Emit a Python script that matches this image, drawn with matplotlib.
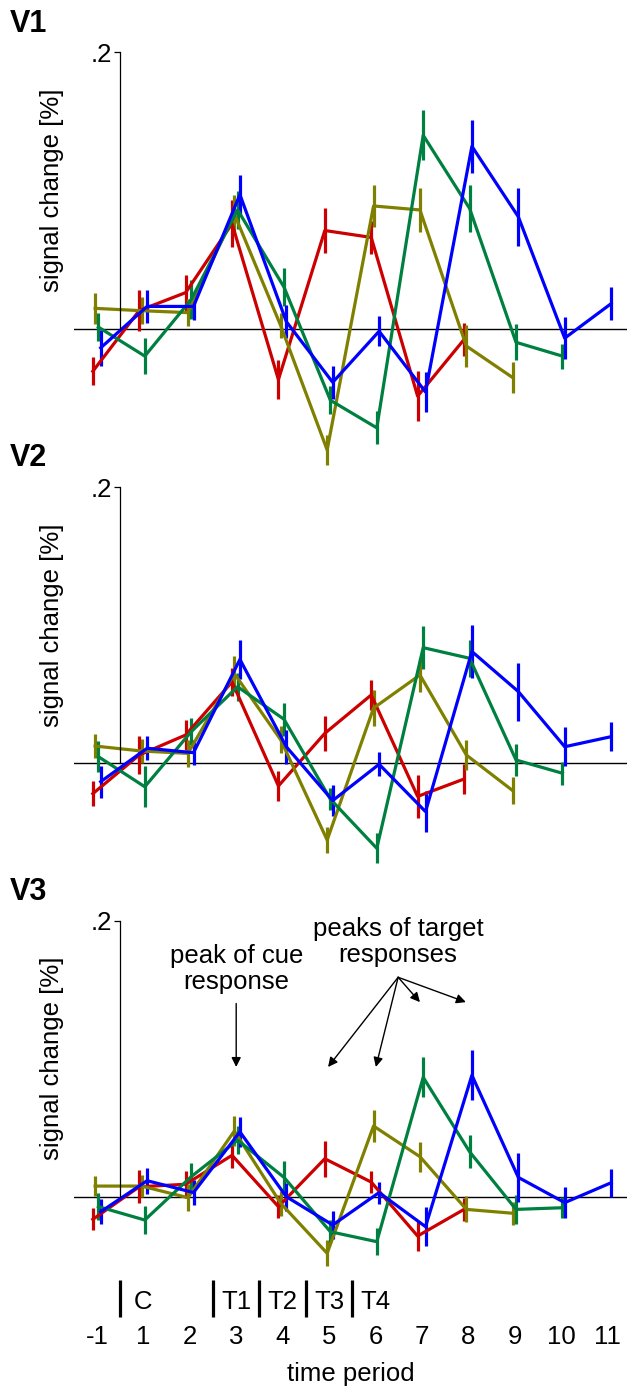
import matplotlib

matplotlib.use("Agg")
import matplotlib.pyplot as plt

plt.rcParams["font.family"] = ["Liberation Sans", "DejaVu Sans"]

# ---- data -------------------------------------------------------------
time_labels = ["-1", "1", "2", "3", "4", "5", "6", "7", "8", "9", "10", "11"]
phase_labels = ["C", "T1", "T2", "T3", "T4"]
phase_index = [1, 3, 4, 5, 6]  # time-period index where each event starts

# V1 (T1 red, T2 olive, T3 green, T4 blue): means and s.e.m.
v1_t1 = [-0.031, 0.013, 0.026, 0.076, -0.037, 0.071, 0.066, -0.049, -0.008]
v1_t1_err = [0.010, 0.015, 0.013, 0.017, 0.014, 0.016, 0.012, 0.018, 0.012]
v1_t2 = [0.0146, 0.0129, 0.0115, 0.083, 0.002, -0.088, 0.0888, 0.0859, -0.0127, -0.0356]
v1_t2_err = [0.011, 0.010, 0.010, 0.014, 0.009, 0.011, 0.015, 0.016, 0.015, 0.011]
v1_t3 = [0.001, -0.020, 0.021, 0.086, 0.030, -0.052, -0.072, 0.140, 0.087, -0.010, -0.020]
v1_t3_err = [0.010, 0.013, 0.014, 0.014, 0.014, 0.010, 0.012, 0.018, 0.017, 0.013, 0.009]
v1_t4 = [-0.014, 0.016, 0.016, 0.097, 0.005, -0.039, -0.002, -0.046, 0.132, 0.081, -0.007, 0.018]
v1_t4_err = [0.013, 0.012, 0.010, 0.0145, 0.012, 0.012, 0.011, 0.0145, 0.019, 0.021, 0.015, 0.012]

# V2
v2_t1 = [-0.022, 0.006, 0.0205, 0.059, -0.0164, 0.0217, 0.0495, -0.024, -0.0114]
v2_t1_err = [0.009, 0.014, 0.011, 0.010, 0.011, 0.0127, 0.011, 0.0157, 0.0106]
v2_t2 = [0.0125, 0.0089, 0.0072, 0.065, 0.017, -0.0556, 0.040, 0.064, 0.006, -0.0198]
v2_t2_err = [0.0085, 0.009, 0.010, 0.013, 0.0097, 0.0097, 0.013, 0.012, 0.011, 0.0097]
v2_t3 = [0.0048, -0.017, 0.0229, 0.0555, 0.0319, -0.026, -0.0616, 0.0838, 0.0761, 0.0024, -0.0072]
v2_t3_err = [0.011, 0.015, 0.010, 0.010, 0.012, 0.008, 0.011, 0.0157, 0.0135, 0.0116, 0.0085]
v2_t4 = [-0.0133, 0.0109, 0.0077, 0.0753, 0.012, -0.027, -0.0007, -0.035, 0.081, 0.052, 0.012, 0.0193]
v2_t4_err = [0.0115, 0.0087, 0.009, 0.014, 0.0123, 0.011, 0.0087, 0.015, 0.019, 0.021, 0.014, 0.0106]

# V3
v3_t1 = [-0.0164, 0.0072, 0.009, 0.030, -0.0072, 0.0275, 0.0106, -0.0285, -0.0092]
v3_t1_err = [0.008, 0.012, 0.0097, 0.009, 0.0085, 0.013, 0.008, 0.011, 0.0085]
v3_t2 = [0.0077, 0.0077, -0.0007, 0.0476, -0.0048, -0.041, 0.0512, 0.029, -0.0092, -0.012]
v3_t2_err = [0.0073, 0.008, 0.010, 0.011, 0.009, 0.0093, 0.0115, 0.011, 0.0094, 0.0085]
v3_t3 = [-0.0072, -0.0169, 0.0145, 0.041, 0.014, -0.0254, -0.0326, 0.0865, 0.0326, -0.0092, -0.008]
v3_t3_err = [0.0097, 0.010, 0.0097, 0.010, 0.012, 0.0085, 0.010, 0.0145, 0.012, 0.0105, 0.0076]
v3_t4 = [-0.0109, 0.0116, 0.003, 0.047, 0.0, -0.0205, 0.003, -0.0217, 0.088, 0.014, -0.0043, 0.0101]
v3_t4_err = [0.009, 0.0094, 0.009, 0.011, 0.010, 0.010, 0.008, 0.014, 0.018, 0.018, 0.011, 0.010]

# ---- layout -------------------------------------------------------------
FIG_W, FIG_H = 627, 1389
PX_PER_UNIT = 1380  # vertical pixels per unit of signal change
X0_PX, X_STEP = 97, 46.4  # pixel of first time period, pixels per period
XLIM = (-0.5, 11.42)
FS = 18.5

colors = ["#cc0000", "#808000", "#008040", "#0000ff"]
offsets = [-0.09, -0.04, 0.03, 0.08]

panels = [
    ("V1", [(v1_t1, v1_t1_err), (v1_t2, v1_t2_err), (v1_t3, v1_t3_err), (v1_t4, v1_t4_err)],
     328.5, (-0.105, 0.205)),
    ("V2", [(v2_t1, v2_t1_err), (v2_t2, v2_t2_err), (v2_t3, v2_t3_err), (v2_t4, v2_t4_err)],
     763.3, (-0.08, 0.205)),
    ("V3", [(v3_t1, v3_t1_err), (v3_t2, v3_t2_err), (v3_t3, v3_t3_err), (v3_t4, v3_t4_err)],
     1196.7, (-0.075, 0.205)),
]

fig = plt.figure(figsize=(FIG_W / 100, FIG_H / 100), dpi=100)
fig.patch.set_facecolor("white")

left_px = X0_PX + XLIM[0] * X_STEP
right_px = X0_PX + XLIM[1] * X_STEP

axes = []
for name, series, zero_px, ylim in panels:
    top_px = zero_px - ylim[1] * PX_PER_UNIT
    bot_px = zero_px - ylim[0] * PX_PER_UNIT
    ax = fig.add_axes([left_px / FIG_W, 1 - bot_px / FIG_H,
                       (right_px - left_px) / FIG_W, (bot_px - top_px) / FIG_H])
    ax.patch.set_alpha(0)
    ax.set_xlim(*XLIM)
    ax.set_ylim(*ylim)

    ax.axhline(0, color="black", lw=1.0, zorder=1)
    for (vals, errs), col, off in zip(series, colors, offsets):
        x = [i + off for i in range(len(vals))]
        ax.errorbar(x, vals, yerr=errs, color=col, lw=2.3, elinewidth=2.3,
                    capsize=0, zorder=2)

    for side in ["top", "right", "bottom"]:
        ax.spines[side].set_visible(False)
    ax.spines["left"].set_position(("data", 0.5))
    ax.spines["left"].set_bounds(0, 0.2)
    ax.spines["left"].set_linewidth(0.9)
    ax.set_yticks([0.2])
    ax.set_yticklabels([".2"])
    ax.tick_params(axis="y", length=4.5, width=0.9, pad=1.5, labelsize=FS)
    ax.set_xticks([])

    yr = ylim[1] - ylim[0]
    ax.set_ylabel("signal change [%]", fontsize=FS, va="center")
    ax.yaxis.set_label_coords((52 - left_px) / (right_px - left_px), (0.1 - ylim[0]) / yr)

    fig.text(10 / FIG_W, 1 - (zero_px - 0.2 * PX_PER_UNIT - 29) / FIG_H, name,
             fontsize=22, fontweight="bold", ha="left", va="center")
    axes.append(ax)

# ---- bottom panel extras --------------------------------------------------
ax = axes[-1]
ylim = panels[-1][3]
yr = ylim[1] - ylim[0]
ax.set_xticks(range(len(time_labels)))
ax.set_xticklabels(time_labels)
ax.tick_params(axis="x", length=0, pad=18, labelsize=FS)
ax.set_xlabel("time period", fontsize=FS, va="center")
ax.xaxis.set_label_coords(0.5, (-0.1285 - ylim[0]) / yr)

# event markers (cue and target onsets)
for lab, idx in zip(phase_labels, phase_index):
    bar_x = idx - 0.5
    ax.plot([bar_x, bar_x], [-0.0604, -0.0872], color="black", lw=2.3,
            clip_on=False, solid_capstyle="butt")
    ax.text(idx, -0.0763, lab, fontsize=FS, ha="center", va="center")

# annotations
arrow_style = dict(arrowstyle="-|>", color="black", lw=1.0,
                   mutation_scale=14, shrinkA=0, shrinkB=0)
ax.text(3.0, 0.165, "peak of cue\nresponse", fontsize=FS, ha="center",
        va="center", linespacing=1.1)
ax.annotate("", xy=(3.0, 0.094), xytext=(3.0, 0.140), arrowprops=arrow_style)
ax.text(6.49, 0.1846, "peaks of target\nresponses", fontsize=FS, ha="center",
        va="center", linespacing=1.15)
for tx, ty in [(4.98, 0.094), (6.01, 0.094), (6.96, 0.141), (7.95, 0.141)]:
    ax.annotate("", xy=(tx, ty), xytext=(6.49, 0.159), arrowprops=arrow_style)

fig.savefig("out.png", dpi=100)
